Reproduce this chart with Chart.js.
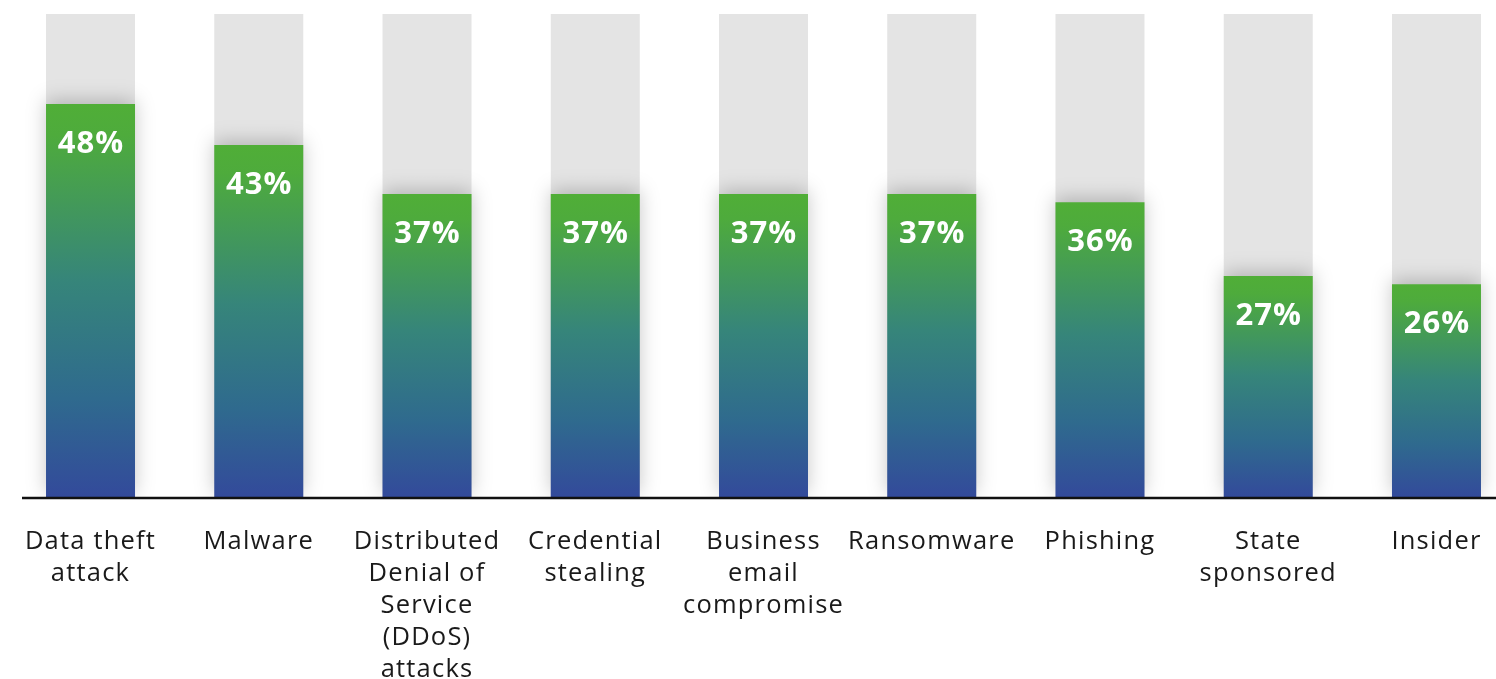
<!DOCTYPE html>
<html>
<head>
<meta charset="utf-8">
<title>Attack types</title>
<script src="https://cdn.jsdelivr.net/npm/chart.js@4.4.1/dist/chart.umd.min.js"></script>
<style>
  html, body { margin: 0; padding: 0; background: #ffffff; overflow: hidden; }
  #wrap { position: relative; width: 1530px; height: 679px; }
</style>
</head>
<body>
<div id="wrap"><canvas id="chart"></canvas></div>
<script>
// Attack categories (multi-line labels) and share of respondents, in percent
const categories = [
  ["Data theft", "attack"],
  ["Malware"],
  ["Distributed", "Denial of", "Service", "(DDoS)", "attacks"],
  ["Credential", "stealing"],
  ["Business", "email", "compromise"],
  ["Ransomware"],
  ["Phishing"],
  ["State", "sponsored"],
  ["Insider"]
];
const shares = [48, 43, 37, 37, 37, 37, 36, 27, 26];
// Full-height grey track behind every bar
const trackMax = 59;
const tracks = categories.map(() => trackMax);

const FONT = "'Open Sans', 'Noto Sans', sans-serif";

// Green-to-blue fill running from each bar's own top down to the baseline
function barGradient(ctx) {
  const chart = ctx.chart;
  const area = chart.chartArea;
  if (!area || ctx.type !== 'data') return '#4fae37';
  const y = chart.scales.y;
  const top = y.getPixelForValue(ctx.raw);
  const base = y.getPixelForValue(0);
  const g = chart.ctx.createLinearGradient(0, top, 0, base);
  g.addColorStop(0, '#50ae37');
  g.addColorStop(0.08, '#4eab3c');
  g.addColorStop(0.45, '#36857a');
  g.addColorStop(0.75, '#2f6a8e');
  g.addColorStop(1, '#334a9b');
  return g;
}

// Wider tracking for the category labels
const tracking = {
  id: 'tracking',
  beforeDraw(chart) { chart.ctx.letterSpacing = '1.2px'; }
};

// Soft shadow around the coloured bars, falling on the grey tracks
const barShadow = {
  id: 'barShadow',
  beforeDatasetDraw(chart, args) {
    if (args.index !== 0) return;
    const c = chart.ctx;
    c.save();
    c.shadowColor = 'rgba(0,0,0,0.22)';
    c.shadowBlur = 18;
    c.shadowOffsetX = 0;
    c.shadowOffsetY = -4;
  },
  afterDatasetDraw(chart, args) {
    if (args.index !== 0) return;
    chart.ctx.restore();
  }
};

// Percentage labels inside the top of each bar, plus the baseline rule
const barLabels = {
  id: 'barLabels',
  afterDatasetsDraw(chart) {
    const c = chart.ctx;
    const meta = chart.getDatasetMeta(0);
    c.save();
    c.letterSpacing = '1px';
    c.fillStyle = '#ffffff';
    c.font = `700 31px ${FONT}`;
    c.textAlign = 'center';
    c.textBaseline = 'middle';
    meta.data.forEach((bar, i) => {
      c.fillText(shares[i] + '%', bar.x + 0.5, bar.y + 40);
    });
    const y0 = chart.scales.y.getPixelForValue(0);
    c.strokeStyle = '#111111';
    c.lineWidth = 2.6;
    c.beginPath();
    c.moveTo(22, y0 + 1);
    c.lineTo(chart.width, y0 + 1);
    c.stroke();
    c.restore();
  }
};

new Chart(document.getElementById('chart'), {
  type: 'bar',
  data: {
    labels: categories,
    datasets: [
      {
        data: shares,
        backgroundColor: barGradient,
        borderWidth: 0,
        order: 0,
        grouped: false,
        barPercentage: 0.529,
        categoryPercentage: 1
      },
      {
        data: tracks,
        backgroundColor: '#e4e4e4',
        borderWidth: 0,
        order: 1,
        grouped: false,
        barPercentage: 0.529,
        categoryPercentage: 1
      }
    ]
  },
  options: {
    responsive: true,
    maintainAspectRatio: false,
    animation: false,
    layout: { padding: { left: 6.4, right: 9.4, top: 14, bottom: 0 } },
    plugins: { legend: { display: false }, tooltip: { enabled: false } },
    scales: {
      x: {
        offset: true,
        grid: { display: false, drawTicks: false },
        border: { display: false },
        ticks: {
          color: '#1a1a1a',
          padding: 29,
          autoSkip: false,
          maxRotation: 0,
          font: { family: FONT, size: 25.5, lineHeight: 1.255 }
        },
        afterFit(scale) { scale.height = 182; }
      },
      y: {
        display: false,
        min: 0,
        max: trackMax
      }
    }
  },
  plugins: [tracking, barShadow, barLabels]
});
</script>
</body>
</html>
